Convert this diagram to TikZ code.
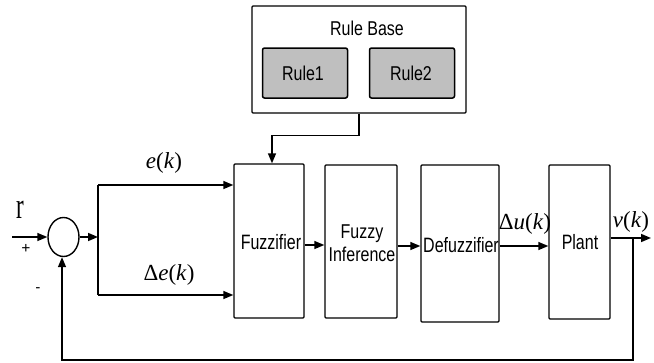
\documentclass[tikz,border=0pt]{standalone}
\usepackage{fontspec}
\setmainfont{Liberation Serif}
\newfontfamily\lblfont{Liberation Sans}
\usetikzlibrary{arrows.meta,shapes.geometric,calc}

% vertical stretch for the tall, narrow lettering
\newcommand{\tallbox}[2]{\scalebox{1}[#1]{#2}}

\begin{document}
\begin{tikzpicture}[x=1pt,y=-1pt,
  blk/.style={draw,line width=1.4pt,inner sep=0pt,rounded corners=1pt},
  rulebox/.style={draw,line width=1.5pt,fill=gray!50,rounded corners=2pt,
    minimum width=85pt,minimum height=50pt,inner sep=0pt},
  lbl/.style={font=\lblfont\fontsize{16}{20}\selectfont,inner sep=0pt,align=center},
  sig/.style={font=\fontsize{23}{26}\selectfont,inner sep=0pt},
  wire/.style={line width=1.5pt},
  arr/.style={wire,-{Triangle[length=10pt,width=8pt]}},
]
\useasboundingbox[fill=white] (0,0) rectangle (654,362);

% rule base
\node[blk,minimum width=214pt,minimum height=107pt] (rb) at (359,59.5) {};
\node[lbl] (rbt) at (367,28) {\tallbox{1.25}{Rule Base}};
\node[rulebox] (r1) at (305,73) {};
\node[lbl] (r1t) at (303,73) {\tallbox{1.25}{Rule1}};
\node[rulebox] (r2) at (412,73) {};
\node[lbl] (r2t) at (411,73) {\tallbox{1.25}{Rule2}};

% fuzzy controller blocks and plant
\node[blk,minimum width=70pt,minimum height=154pt] (fuzz) at (269,241) {};
\node[lbl] (fuzzt) at (271,242) {\tallbox{1.3}{Fuzzifier}};
\node[blk,minimum width=72pt,minimum height=153pt] (inf) at (361,241.5) {};
\node[lbl] (inft) at (362,245) {\tallbox{1.25}{\begin{tabular}{@{}c@{}}Fuzzy\\[-1pt]Inference\end{tabular}}};
\node[blk,minimum width=78pt,minimum height=157pt] (defz) at (460,243.5) {};
\node[lbl] (defzt) at (461,245) {\tallbox{1.3}{Defuzzifier}};
\node[blk,minimum width=61pt,minimum height=154pt] (plant) at (579.5,242) {};
\node[lbl] (plantt) at (580,242) {\tallbox{1.3}{Plant}};

% summing junction
\node[draw,ellipse,line width=1.4pt,minimum width=31pt,minimum height=39pt,inner sep=0pt] (sum) at (63.5,237) {};

% signal labels
\node[sig] (rl) at (20,210) {\tallbox{1.6}{r}};
\node[font=\fontsize{16}{16}\selectfont\bfseries,inner sep=0pt] (plus) at (26,249) {+};
\node[font=\fontsize{14}{14}\selectfont\bfseries,inner sep=0pt] (minus) at (38,290) {-};
\node[sig] (ek) at (164,163) {\textit{e}(\textit{k})};
\node[sig] (dek) at (169,275) {Δ\textit{e}(\textit{k})};
\node[sig] (duk) at (525,224) {Δ\textit{u}(\textit{k})};
\node[sig] (vk) at (631,222) {\textit{v}(\textit{k})};

% connectors
\coordinate (in) at (12,237);
\coordinate (split) at (98,237);
\coordinate (top) at (98,185);
\coordinate (bot) at (98,295);
\coordinate (out) at (651,238);
\coordinate (tap) at (633,238);
\coordinate (fbcorner) at (633,360);
\coordinate (fbleft) at (62,360);

\draw[arr] (in) -- (sum.west);
\draw[arr] (sum.east) -- (split);
\draw[wire] (top) -- (bot);
\draw[arr] (top) -- (top -| fuzz.west);
\draw[arr] (bot) -- (bot -| fuzz.west);
\draw[arr] ([yshift=-4pt]fuzz.east) -- ([yshift=-4pt]fuzz.east -| inf.west);
\draw[arr] ([yshift=-4.5pt]inf.east) -- ([yshift=-4.5pt]inf.east -| defz.west);
\draw[arr] ([yshift=-2.5pt]defz.east) -- ([yshift=-2.5pt]defz.east -| plant.west);
\draw[arr] ([yshift=4pt]plant.east) -- (out);
\draw[arr] (tap) -- (fbcorner) -- (fbleft) -- (fbleft |- sum.south);
\draw[arr] (rb.south) -- ++(0,22) -| ([xshift=3pt]fuzz.north);
\end{tikzpicture}
\end{document}
